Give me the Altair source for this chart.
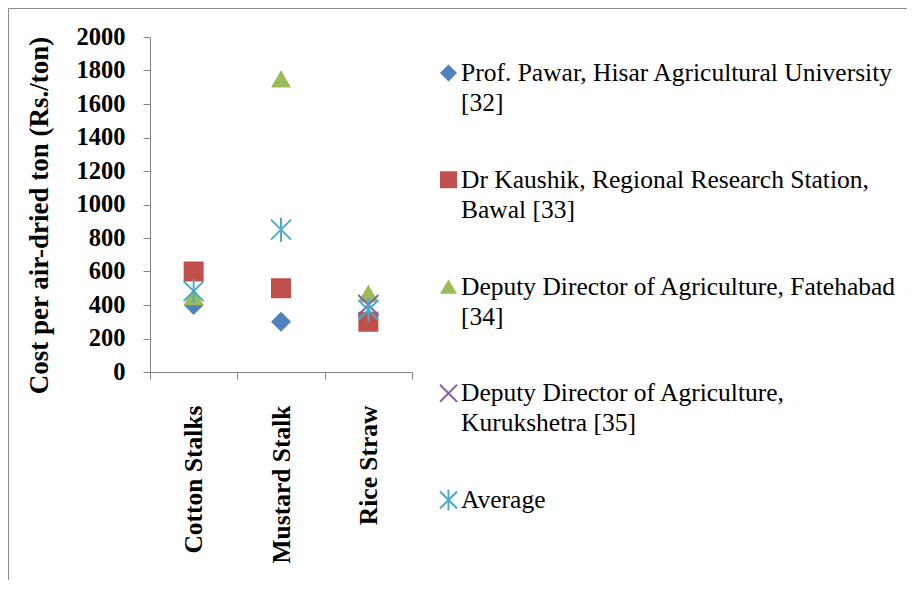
import altair as alt
import pandas as pd

categories = ["Cotton Stalks", "Mustard Stalk", "Rice Straw"]
series = [
    "Prof. Pawar, Hisar Agricultural University [32]",
    "Dr Kaushik, Regional Research Station, Bawal [33]",
    "Deputy Director of Agriculture, Fatehabad [34]",
    "Deputy Director of Agriculture, Kurukshetra [35]",
    "Average",
]
legend_labels = [
    "Prof. Pawar, Hisar Agricultural University\n[32]",
    "Dr Kaushik, Regional Research Station,\nBawal [33]",
    "Deputy Director of Agriculture, Fatehabad\n[34]",
    "Deputy Director of Agriculture,\nKurukshetra [35]",
    "Average",
]
pawar = [400, 300, 300]
kaushik = [600, 500, 300]
fatehabad = [450, 1750, 470]
kurukshetra = [None, None, 400]
average = [483, 850, 370]
values_by_series = [pawar, kaushik, fatehabad, kurukshetra, average]

colors = ["#4F81BD", "#C0504D", "#9BBB59", "#8064A2", "#4BACC6"]
shapes = ["diamond", "square", "triangle-up",
          "M-1,-1L1,1M-1,1L1,-1",
          "M-1,-1L1,1M-1,1L1,-1M0,-1.2L0,1.2"]
filled_series = series[:3]
stroked_series = series[3:]
y_ticks = list(range(0, 2001, 200))

rows = []
for s, vals in zip(series, values_by_series):
    for c, v in zip(categories, vals):
        if v is not None:
            rows.append({"series": s, "category": c, "value": v})
df = pd.DataFrame(rows)

leg = pd.DataFrame({"series": series, "label": legend_labels, "row": list(range(len(series)))})

FONT = "Liberation Serif"
TEXT_FONT = "Liberation Serif, Times New Roman, serif"
GRAY = "#868686"

color = alt.Color("series:N", scale=alt.Scale(domain=series, range=colors), legend=None)
shape = alt.Shape("series:N", scale=alt.Scale(domain=series, range=shapes), legend=None)

x = alt.X("category:N", sort=categories,
          scale=alt.Scale(domain=categories, paddingInner=0, paddingOuter=0),
          axis=alt.Axis(title=None, labelAngle=270, labelAlign="right", labelBaseline="middle",
                        labelFont=FONT, labelFontWeight="bold", labelFontSize=25.5,
                        labelColor="black", labelPadding=26, labelLimit=400,
                        tickSize=7, tickColor=GRAY, domainColor=GRAY, tickBand="extent",
                        grid=False))
y = alt.Y("value:Q", scale=alt.Scale(domain=[0, 2000], nice=False),
          axis=alt.Axis(title="Cost per air-dried ton (Rs./ton)", values=y_ticks, format="d",
                        titleFont=FONT, titleFontWeight="bold", titleFontSize=27,
                        titleColor="black", titleAngle=270, titleX=-111, titleY=178,
                        titleAlign="center", titleBaseline="middle",
                        labelFont=FONT, labelFontWeight="bold", labelFontSize=24.5,
                        labelColor="black", labelPadding=18, labelOverlap=False,
                        tickSize=7, tickColor=GRAY, domainColor=GRAY, grid=False))

base = alt.Chart(df).encode(x=x, y=y, color=color, shape=shape)
filled = base.mark_point(filled=True, size=400, opacity=1).transform_filter(
    alt.FieldOneOfPredicate(field="series", oneOf=filled_series))
stroked = base.mark_point(filled=False, size=400, strokeWidth=2, opacity=1).transform_filter(
    alt.FieldOneOfPredicate(field="series", oneOf=stroked_series))
main = alt.layer(filled, stroked)

ly = alt.Y("row:O", scale=alt.Scale(domain=list(range(len(series))), range=[36, 463], padding=0), axis=None)
lbase = alt.Chart(leg).encode(y=ly, color=color, shape=shape)
lfilled = lbase.mark_point(filled=True, size=289, opacity=1).encode(x=alt.value(298.5)).transform_filter(
    alt.FieldOneOfPredicate(field="series", oneOf=filled_series))
lstroked = lbase.mark_point(filled=False, size=289, strokeWidth=2, opacity=1).encode(x=alt.value(298.5)).transform_filter(
    alt.FieldOneOfPredicate(field="series", oneOf=stroked_series))
ltext = alt.Chart(leg).mark_text(align="left", baseline="alphabetic", dy=8, lineBreak="\n",
                                 lineHeight=30, font=TEXT_FONT, fontSize=25.5, color="black").encode(
    x=alt.value(311), y=ly, text="label:N")
legend = alt.layer(lfilled, lstroked, ltext)

one = pd.DataFrame({"a": [0]})
frame_left = alt.Chart(one).mark_rule(color="#8c8c8c", strokeWidth=1).encode(
    x=alt.value(-141.5), y=alt.value(-28.5), y2=alt.value(543))
frame_top = alt.Chart(one).mark_rule(color="#8c8c8c", strokeWidth=1).encode(
    x=alt.value(-141.5), x2=alt.value(757), y=alt.value(-28.5))

chart = alt.layer(main, legend, frame_left, frame_top).resolve_scale(y="independent").properties(
    width=262, height=335, padding=0
).configure_view(stroke=None).configure_text(font=TEXT_FONT)

chart.save("out.html", embed_options={"renderer": "svg", "actions": False})
